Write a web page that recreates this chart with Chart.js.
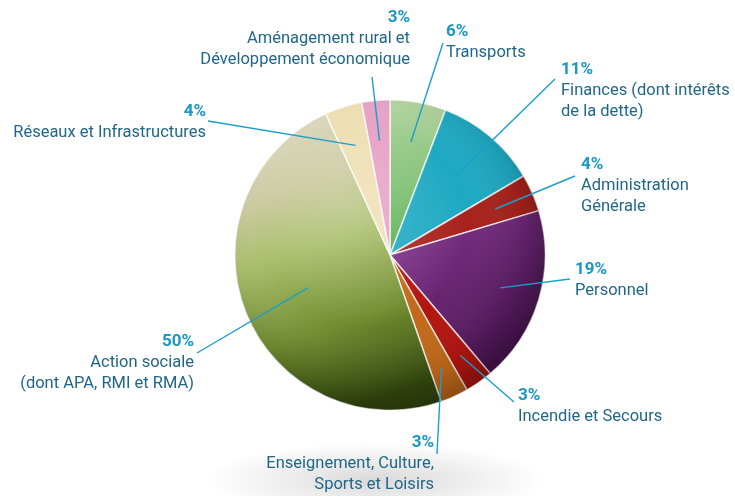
<!DOCTYPE html>
<html>
<head>
<meta charset="utf-8">
<script src="https://cdn.jsdelivr.net/npm/chart.js@4.4.1/dist/chart.umd.min.js"></script>
<style>
  html, body { margin: 0; padding: 0; background: #fff; }
  #wrap { width: 735px; height: 496px; position: relative; }
</style>
</head>
<body>
<div id="wrap"><canvas id="our-chart"></canvas></div>
<script>
// Data
const categories = [
  'Transports',
  'Finances (dont intérêts de la dette)',
  'Administration Générale',
  'Personnel',
  'Incendie et Secours',
  'Enseignement, Culture, Sports et Loisirs',
  'Action sociale (dont APA, RMI et RMA)',
  'Réseaux et Infrastructures',
  'Aménagement rural et Développement économique'
];
const shares = [6, 11, 4, 19, 3, 3, 50, 4, 3];
const pctLabels = ['6%', '11%', '4%', '19%', '3%', '3%', '50%', '4%', '3%'];
const textLines = [
  ['Transports'],
  ['Finances (dont intérêts', 'de la dette)'],
  ['Administration', 'Générale'],
  ['Personnel'],
  ['Incendie et Secours'],
  ['Enseignement, Culture,', 'Sports et Loisirs'],
  ['Action sociale', '(dont APA, RMI et RMA)'],
  ['Réseaux et Infrastructures'],
  ['Aménagement rural et', 'Développement économique']
];

// colours
const colors = ['#8ec27e', '#1ea9c2', '#a8221c', '#6c2477', '#b3150f', '#c2691a', '#9cb35e', '#eedfb4', '#e7a3c6'];

// label layout: text anchor, alignment, leader end and how deep it goes into the slice
const labelLayout = [
  { x: 446, y: 32, align: 'left',  end: [443, 43],  depth: 0.74 },
  { x: 561, y: 70, align: 'left',  end: [555, 79],  depth: 0.71 },
  { x: 581, y: 165, align: 'left', end: [575, 176], depth: 0.74 },
  { x: 575, y: 270, align: 'left', end: [570, 279], depth: 0.74 },
  { x: 518, y: 396, align: 'left', end: [514, 402], depth: 0.79 },
  { x: 434, y: 443, align: 'right', end: [437, 454], depth: 0.8 },
  { x: 194, y: 342, align: 'right', end: [197, 353], depth: 0.57 },
  { x: 206, y: 112, align: 'right', end: [208, 121], depth: 0.74 },
  { x: 410, y: 18, align: 'right', end: [372, 77],  depth: 0.74 }
];

const FONT = 'Roboto, "DejaVu Sans", sans-serif';

function sliceColor(ctx) {
  const i = ctx.dataIndex;
  const area = ctx.chart.chartArea;
  if (!area) return colors[i];
  const c = ctx.chart.ctx;
  if (i === 6) {
    const g = c.createLinearGradient(area.left, area.top, area.left + area.width * 0.35, area.bottom);
    g.addColorStop(0, '#e6e1d0');
    g.addColorStop(0.3, '#cfcda6');
    g.addColorStop(0.5, '#a9be6a');
    g.addColorStop(0.75, '#728d30');
    g.addColorStop(1, '#34480d');
    return g;
  }
  if (i === 3) {
    const g = c.createLinearGradient(area.left + area.width * 0.6, area.top + area.height * 0.4, area.right, area.bottom);
    g.addColorStop(0, '#7e3088');
    g.addColorStop(1, '#38093f');
    return g;
  }
  if (i === 0) {
    const g = c.createLinearGradient(0, area.top, 0, area.top + area.height * 0.5);
    g.addColorStop(0, '#b7d6a4');
    g.addColorStop(1, '#4fae4a');
    return g;
  }
  return colors[i];
}

const shadowPlugin = {
  id: 'shadow',
  beforeDatasetsDraw(chart) {
    const arc = chart.getDatasetMeta(0).data[0];
    if (!arc) return;
    const c = chart.ctx;
    const R = arc.outerRadius;
    c.save();
    c.translate(arc.x - 0.1 * R, arc.y + R + 0.45 * R);
    c.scale(1, 0.22);
    const g = c.createRadialGradient(0, 0, 0, 0, 0, R * 1.1);
    g.addColorStop(0, 'rgba(120,120,120,0.28)');
    g.addColorStop(1, 'rgba(120,120,120,0)');
    c.fillStyle = g;
    c.beginPath();
    c.arc(0, 0, R * 1.1, 0, Math.PI * 2);
    c.fill();
    c.restore();
  }
};

const shadePlugin = {
  id: 'shade',
  afterDatasetsDraw(chart) {
    const arc = chart.getDatasetMeta(0).data[0];
    if (!arc) return;
    const c = chart.ctx;
    const R = arc.outerRadius;
    c.save();
    c.beginPath();
    c.arc(arc.x, arc.y, R, 0, Math.PI * 2);
    c.clip();
    const g = c.createRadialGradient(arc.x - 0.25 * R, arc.y - 0.3 * R, 0, arc.x - 0.1 * R, arc.y - 0.1 * R, R * 1.2);
    g.addColorStop(0, 'rgba(255,255,255,0.18)');
    g.addColorStop(0.55, 'rgba(255,255,255,0)');
    g.addColorStop(0.82, 'rgba(0,0,0,0.08)');
    g.addColorStop(1, 'rgba(0,0,0,0.35)');
    c.fillStyle = g;
    c.fillRect(arc.x - R, arc.y - R, 2 * R, 2 * R);
    c.restore();
  }
};

const labelPlugin = {
  id: 'leaders',
  afterDraw(chart) {
    const c = chart.ctx;
    const arcs = chart.getDatasetMeta(0).data;
    c.save();
    arcs.forEach((arc, i) => {
      const L = labelLayout[i];
      const mid = (arc.startAngle + arc.endAngle) / 2;
      const r = arc.outerRadius * L.depth;
      const px = arc.x + Math.cos(mid) * r;
      const py = arc.y + Math.sin(mid) * r;
      c.strokeStyle = '#1a9fca';
      c.lineWidth = 1.4;
      c.beginPath();
      c.moveTo(px, py);
      c.lineTo(L.end[0], L.end[1]);
      c.stroke();

      c.textAlign = L.align;
      c.textBaseline = 'middle';
      c.fillStyle = '#1a97c6';
      c.font = 'bold 17px ' + FONT;
      c.fillText(pctLabels[i], L.x, L.y);
      c.fillStyle = '#1f6688';
      c.font = '16.5px ' + FONT;
      textLines[i].forEach((t, k) => {
        c.fillText(t, L.x, L.y + 21 * (k + 1));
      });
    });
    c.restore();
  }
};

const ctx = document.getElementById('our-chart').getContext('2d');
const myChart = new Chart(ctx, {
  type: 'pie',
  data: {
    labels: categories,
    datasets: [{
      data: shares,
      backgroundColor: sliceColor,
      borderColor: 'rgba(255,255,255,0.75)',
      borderWidth: 1.5
    }]
  },
  options: {
    responsive: true,
    maintainAspectRatio: false,
    animation: false,
    layout: { padding: { left: 234, right: 189, top: 99, bottom: 85 } },
    plugins: {
      legend: { display: false },
      tooltip: { enabled: false }
    }
  },
  plugins: [shadowPlugin, shadePlugin, labelPlugin]
});
</script>
</body>
</html>
